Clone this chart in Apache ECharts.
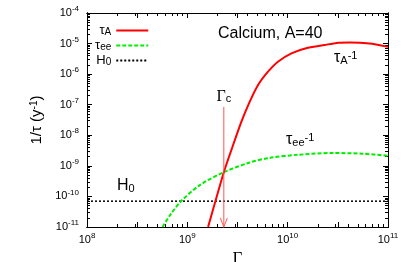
<!DOCTYPE html>
<html><head><meta charset="utf-8">
<script src="https://cdn.jsdelivr.net/npm/echarts@6/dist/echarts.min.js"></script>
<style>html,body{margin:0;padding:0;background:#fff}#c{width:408px;height:262px}</style>
</head><body><div id="c"></div>
<script>
// Data (Gamma, 1/tau in y^-1)
const tauA_gamma = [1.61e9, 2.31e9, 2.86e9, 3.46e9, 4.19e9, 5.07e9, 6.37e9, 8.0e9, 1.09e10, 1.59e10, 2.33e10, 3.07e10, 4.14e10, 6.55e10, 1.0e11];
const tauA_rate  = [1e-11, 6.2e-10, 4.8e-9, 2.78e-8, 1.26e-7, 4.42e-7, 1.2e-6, 2.55e-6, 4.8e-6, 7.3e-6, 8.97e-6, 1.05e-5, 1.08e-5, 1.0e-5, 7.8e-6];
const tauEE_gamma = [5.66e8, 6.76e8, 8.6e8, 1.33e9, 2.31e9, 4.19e9, 6.6e9, 1.26e10, 2.8e10, 5.6e10, 1.0e11];
const tauEE_rate  = [1e-11, 2.5e-11, 6.8e-11, 2.34e-10, 6.2e-10, 1.29e-9, 1.82e-9, 2.3e-9, 2.63e-9, 2.5e-9, 2.14e-9];
const H0_gamma = [1e8, 1e11];
const H0_rate = [7e-11, 7e-11];
const gammaC = 2.31e9;
const gammaC_arrow = [8.5e-8, 1e-11];
const xTicks = [1e8, 1e9, 1e10, 1e11];
const yTicks = [1e-11, 1e-10, 1e-9, 1e-8, 1e-7, 1e-6, 1e-5, 1e-4];

// minor tick positions (2..9 per decade), expressed as decade exponents for the tick-only axes
const minorExp = ticks => {
  const out = [];
  for (let i = 0; i < ticks.length - 1; i++) for (let m = 2; m <= 9; m++) out.push(Math.log10(m * ticks[i]));
  return out;
};
const xMinorExp = minorExp(xTicks);
const yMinorExp = minorExp(yTicks);
const lg = v => Math.round(Math.log10(v));

const zip = (a, b) => a.map((v, i) => [v, b[i]]);
const sans = 'Liberation Sans';
const serif = 'Liberation Serif';
const expFmt = v => '{b|10}{s|' + lg(v) + '}';
const tickRich = {
  b: { fontSize: 11, fontFamily: sans, color: '#000', lineHeight: 16 },
  s: { fontSize: 8, fontFamily: sans, color: '#000', lineHeight: 8, verticalAlign: 'top' }
};
const noSplit = { show: true, lineStyle: { color: 'rgba(0,0,0,0)' } };

// tick-only axes (exponent space, same extent as the log axes)
function tickAxis(kind, pos, len, custom) {
  const t = kind === 'x' ? xTicks : yTicks;
  const tick = { show: true, inside: true, length: len, lineStyle: { color: '#000', width: 1 } };
  if (custom) tick.customValues = custom;
  return {
    type: 'value', position: pos, min: lg(t[0]), max: lg(t[t.length - 1]),
    axisLine: { show: true, lineStyle: { color: '#000', width: 1 } },
    axisTick: tick,
    axisLabel: { color: 'rgba(0,0,0,0)', fontSize: 1, margin: 0 },
    splitLine: noSplit
  };
}

const chart = echarts.init(document.getElementById('c'), null, { renderer: 'canvas' });
chart.setOption({
  animation: false,
  grid: { left: 87, right: 20, top: 13, bottom: 35, outerBoundsMode: 'none' },
  xAxis: [
    { type: 'log', position: 'bottom', min: xTicks[0], max: xTicks[xTicks.length - 1],
      axisLine: { show: true, lineStyle: { color: '#000' } }, axisTick: { show: false }, splitLine: noSplit,
      axisLabel: { formatter: expFmt, rich: tickRich, margin: 5 },
      name: 'Γ', nameLocation: 'middle', nameGap: 17,
      nameTextStyle: { fontFamily: serif, fontSize: 17, color: '#000' } },
    tickAxis('x', 'bottom', 5),
    tickAxis('x', 'bottom', 3, xMinorExp),
    tickAxis('x', 'top', 5),
    tickAxis('x', 'top', 3, xMinorExp)
  ],
  yAxis: [
    { type: 'log', position: 'left', min: yTicks[0], max: yTicks[yTicks.length - 1],
      axisLine: { show: true, lineStyle: { color: '#000' } }, axisTick: { show: false }, splitLine: noSplit,
      axisLabel: { formatter: expFmt, rich: tickRich, margin: 8 },
      name: '1/τ (y{s|-1})', nameLocation: 'middle', nameGap: 41, nameRotate: 90,
      nameTextStyle: { fontFamily: sans, fontSize: 15, color: '#000',
        rich: { s: { fontSize: 10, fontFamily: sans, color: '#000', lineHeight: 10, verticalAlign: 'top' } } } },
    tickAxis('y', 'left', 5),
    tickAxis('y', 'left', 3, yMinorExp),
    tickAxis('y', 'right', 5),
    tickAxis('y', 'right', 3, yMinorExp)
  ],
  legend: {
    orient: 'vertical', left: 90, top: 19, align: 'right',
    itemWidth: 32, itemHeight: 8, itemGap: 2,
    data: ['τA', 'τee', 'H0'],
    itemStyle: { opacity: 0 },
    formatter: n => n === 'τA' ? 'τ{s|A}' : n === 'τee' ? 'τ{s|ee}' : 'H{s|0}',
    textStyle: { fontFamily: sans, fontSize: 13, color: '#000',
      rich: { s: { fontSize: 10, fontFamily: sans, color: '#000', lineHeight: 10, verticalAlign: 'bottom' } } }
  },
  series: [
    { name: 'τA', type: 'line', data: zip(tauA_gamma, tauA_rate), smooth: 0.2, showSymbol: false, symbol: 'none',
      lineStyle: { color: '#ff0000', width: 2 }, itemStyle: { color: '#ff0000' }, clip: true, z: 3 },
    { name: 'τee', type: 'line', data: zip(tauEE_gamma, tauEE_rate), smooth: 0.3, showSymbol: false, symbol: 'none',
      lineStyle: { color: '#00ee00', width: 2, type: [4, 2] }, itemStyle: { color: '#00ee00' }, clip: true, z: 2 },
    { name: 'H0', type: 'line', data: zip(H0_gamma, H0_rate), showSymbol: false, symbol: 'none',
      lineStyle: { color: '#000', width: 1.5, type: [2, 2] }, itemStyle: { color: '#000' }, z: 1 },
    { name: 'arrow', type: 'line', z: 4,
      data: [
        { value: [gammaC, gammaC_arrow[0]], symbol: 'circle', symbolSize: 0.01,
          label: { show: true, position: 'top', distance: 2, formatter: 'Γ{s|c}',
            fontFamily: serif, fontSize: 16, color: '#000',
            rich: { s: { fontFamily: sans, fontSize: 11, color: '#000', lineHeight: 11, verticalAlign: 'bottom' } } } },
        { value: [gammaC, gammaC_arrow[1]], symbol: 'path://M0,0 L5,10 L10,0', symbolSize: [7, 9], symbolOffset: [0, -4.5],
          itemStyle: { color: 'none', borderColor: '#ff5555', borderWidth: 1 } }
      ],
      showSymbol: true, lineStyle: { color: '#ff5555', width: 1 }, itemStyle: { color: '#ff5555' } }
  ],
  graphic: [
    { type: 'text', left: 218, top: 26, style: { text: 'Calcium, A=40', font: '16px "Liberation Sans"', fill: '#000' } },
    { type: 'text', left: 334, top: 50, style: { text: 'τ{s|A}{p|-1}', font: '16px "Liberation Sans"', fill: '#000',
        rich: { s: { fontSize: 11, fontFamily: sans, lineHeight: 11, verticalAlign: 'bottom', fill: '#000' },
                p: { fontSize: 11, fontFamily: sans, lineHeight: 11, verticalAlign: 'top', fill: '#000' } } } },
    { type: 'text', left: 286, top: 132, style: { text: 'τ{s|ee}{p|-1}', font: '16px "Liberation Sans"', fill: '#000',
        rich: { s: { fontSize: 11, fontFamily: sans, lineHeight: 11, verticalAlign: 'bottom', fill: '#000' },
                p: { fontSize: 11, fontFamily: sans, lineHeight: 11, verticalAlign: 'top', fill: '#000' } } } },
    { type: 'text', left: 117, top: 178, style: { text: 'H{s|0}', font: '16px "Liberation Sans"', fill: '#000',
        rich: { s: { fontSize: 11, fontFamily: sans, lineHeight: 11, verticalAlign: 'bottom', fill: '#000' } } } }
  ]
});
</script></body></html>
